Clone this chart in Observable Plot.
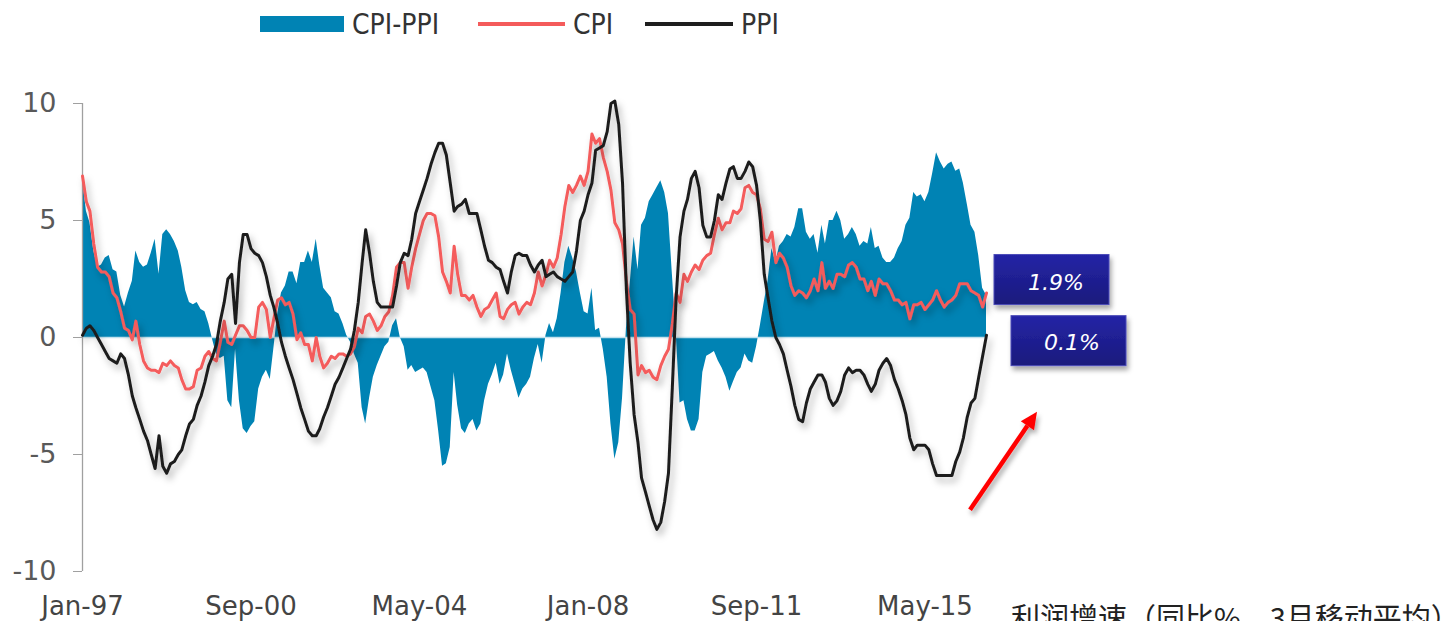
<!DOCTYPE html>
<html><head><meta charset="utf-8">
<script src="https://cdn.jsdelivr.net/npm/d3@7"></script>
<script src="https://cdn.jsdelivr.net/npm/@observablehq/plot@0.6"></script>
<style>
html,body{margin:0;padding:0;background:#fff;overflow:hidden;width:1449px;height:621px;}
#wrap{position:relative;width:1449px;height:621px;overflow:hidden;}
#legend{position:absolute;left:0;top:0;width:1449px;height:48px;font-family:"DejaVu Sans Condensed","DejaVu Sans",sans-serif;font-size:28px;color:#333;}
.item{position:absolute;top:6px;height:36px;display:flex;align-items:center;}
.sw{display:inline-block;margin-right:8px;}
#chart{position:absolute;left:0;top:48px;}
#caption{position:absolute;left:1011px;top:602px;font-family:"Noto Sans CJK SC",sans-serif;font-size:29px;line-height:1;color:#222;white-space:nowrap;}
</style></head>
<body><div id="wrap">
<div id="legend"></div>
<div id="chart"></div>
<div id="caption"></div>
</div>
<script>
// ---- data (monthly, Jan-1997 .. Sep-2016) ----
const startYear = 1997;
const cpi = [
 // 1997
 6.9,5.8,5.4,4.0,3.0,2.8,2.8,2.6,1.9,1.7,1.1,0.4,
 // 1998
 0.3,-0.1,0.7,-0.3,-1.0,-1.3,-1.4,-1.4,-1.5,-1.1,-1.2,-1.0,
 // 1999
 -1.2,-1.3,-1.8,-2.2,-2.2,-2.1,-1.4,-1.3,-0.8,-0.6,-0.9,-1.0,
 // 2000
 -0.2,0.7,-0.2,-0.3,0.1,0.5,0.5,0.3,0.0,0.0,1.3,1.5,
 // 2001
 1.2,0.0,0.8,1.6,1.7,1.4,1.5,1.0,-0.1,0.2,-0.3,-0.3,
 // 2002
 -1.0,0.0,-0.8,-1.3,-1.1,-0.8,-0.9,-0.7,-0.7,-0.8,-0.7,-0.4,
 // 2003
 0.4,0.2,0.9,1.0,0.7,0.3,0.5,0.9,1.1,1.8,3.0,3.2,
 // 2004
 3.2,2.1,3.0,3.8,4.4,5.0,5.3,5.3,5.2,4.3,2.8,2.4,
 // 2005
 1.9,3.9,2.7,1.8,1.8,1.6,1.8,1.3,0.9,1.2,1.3,1.6,
 // 2006
 1.9,0.9,0.8,1.2,1.4,1.5,1.0,1.3,1.5,1.4,1.9,2.8,
 // 2007
 2.2,2.7,3.3,3.0,3.4,4.4,5.6,6.5,6.2,6.5,6.9,6.5,
 // 2008
 7.1,8.7,8.3,8.5,7.7,7.1,6.3,4.9,4.6,4.0,2.4,1.2,
 // 2009
 1.0,-1.6,-1.2,-1.5,-1.4,-1.7,-1.8,-1.2,-0.8,-0.5,0.6,1.9,
 // 2010
 1.5,2.7,2.4,2.8,3.1,2.9,3.3,3.5,3.6,4.4,5.1,4.6,
 // 2011
 4.9,4.9,5.4,5.3,5.5,6.4,6.5,6.2,6.1,5.5,4.2,4.1,
 // 2012
 4.5,3.2,3.6,3.4,3.0,2.2,1.8,2.0,1.9,1.7,2.0,2.5,
 // 2013
 2.0,3.2,2.1,2.4,2.1,2.7,2.7,2.6,3.1,3.2,3.0,2.5,
 // 2014
 2.5,2.0,2.4,1.8,2.5,2.3,2.3,2.0,1.6,1.6,1.4,1.5,
 // 2015
 0.8,1.4,1.4,1.5,1.2,1.4,1.6,2.0,1.6,1.3,1.5,1.6,
 // 2016
 1.8,2.3,2.3,2.3,2.0,1.9,1.8,1.3,1.9
];
const ppi = [
 // 1997
 0.1,0.4,0.5,0.3,0.0,-0.3,-0.6,-0.9,-1.0,-1.1,-0.7,-0.9,
 // 1998
 -1.6,-2.5,-3.0,-3.5,-4.0,-4.4,-5.0,-5.6,-4.2,-5.5,-5.8,-5.4,
 // 1999
 -5.3,-5.0,-4.8,-4.2,-3.7,-3.5,-2.9,-2.5,-1.9,-1.2,-0.8,-0.3,
 // 2000
 0.7,1.5,2.5,2.7,0.6,3.2,4.4,4.4,3.8,3.6,3.5,3.2,
 // 2001
 2.6,1.8,1.3,0.6,-0.2,-0.8,-1.3,-1.8,-2.4,-3.0,-3.5,-4.0,
 // 2002
 -4.2,-4.2,-3.9,-3.4,-3.0,-2.5,-2.0,-1.7,-1.3,-0.9,-0.5,0.3,
 // 2003
 1.5,3.2,4.6,3.6,2.4,1.5,1.3,1.3,1.3,1.3,2.2,3.2,
 // 2004
 3.6,3.5,4.2,5.3,5.8,6.3,6.8,7.4,7.9,8.3,8.3,7.8,
 // 2005
 6.6,5.4,5.6,5.7,5.9,5.3,5.3,5.3,4.6,3.9,3.3,3.2,
 // 2006
 3.0,2.9,2.4,1.9,2.8,3.5,3.6,3.5,3.5,3.1,2.8,3.1,
 // 2007
 3.3,2.6,2.7,2.8,2.6,2.5,2.4,2.6,2.8,3.7,5.0,5.4,
 // 2008
 6.1,6.6,8.0,8.1,8.2,8.8,10.0,10.1,9.1,6.6,2.0,-1.1,
 // 2009
 -3.3,-4.5,-6.0,-6.6,-7.2,-7.8,-8.2,-7.9,-7.0,-5.8,-2.1,1.7,
 // 2010
 4.3,5.4,5.9,6.8,7.1,6.4,4.8,4.3,4.3,5.0,6.1,5.9,
 // 2011
 6.6,7.2,7.3,6.8,6.8,7.1,7.5,7.3,6.5,5.0,2.7,1.7,
 // 2012
 0.7,0.0,-0.3,-0.7,-1.4,-2.1,-2.9,-3.5,-3.6,-2.8,-2.2,-1.9,
 // 2013
 -1.6,-1.6,-1.9,-2.6,-2.9,-2.7,-2.3,-1.6,-1.3,-1.5,-1.4,-1.4,
 // 2014
 -1.6,-2.0,-2.3,-2.0,-1.4,-1.1,-0.9,-1.2,-1.8,-2.2,-2.7,-3.3,
 // 2015
 -4.3,-4.8,-4.6,-4.6,-4.6,-4.8,-5.4,-5.9,-5.9,-5.9,-5.9,-5.9,
 // 2016
 -5.3,-4.9,-4.3,-3.4,-2.8,-2.6,-1.7,-0.8,0.1
];
const seriesNames = ["CPI-PPI","CPI","PPI"];
const yTicks = [-10,-5,0,5,10];
const xTickLabels = ["Jan-97","Sep-00","May-04","Jan-08","Sep-11","May-15"];
const captionText = "利润增速（同比%，3月移动平均）";

// ---- build table ----
const monthIdx = {Jan:0,Feb:1,Mar:2,Apr:3,May:4,Jun:5,Jul:6,Aug:7,Sep:8,Oct:9,Nov:10,Dec:11};
const rows = cpi.map((c,i)=>({
  date: new Date(Date.UTC(startYear + Math.floor(i/12), i%12, 1)),
  cpi: c, ppi: ppi[i], diff: +(c - ppi[i]).toFixed(2)
}));
const xTicks = xTickLabels.map(s=>{const [m,y]=s.split("-"); return new Date(Date.UTC(2000+ (+y>50? +y-100:+y), monthIdx[m], 1));});
const tickFmt = d3.utcFormat("%b-%y");

const colors = {area:"#0083b4", cpi:"#f45b5b", ppi:"#1e1e1e"};

// ---- legend ----
const legend = document.getElementById("legend");
const legItems = [
  {name:seriesNames[0], left:260, sw:`<span class="sw" style="width:84px;height:16px;background:${colors.area}"></span>`},
  {name:seriesNames[1], left:478, sw:`<span class="sw" style="width:87px;height:4px;background:${colors.cpi}"></span>`},
  {name:seriesNames[2], left:645, sw:`<span class="sw" style="width:88px;height:4px;background:${colors.ppi}"></span>`}
];
legItems.forEach(it=>{
  const d = document.createElement("div");
  d.className="item"; d.style.left=it.left+"px";
  d.innerHTML = it.sw + `<span>${it.name}</span>`;
  legend.appendChild(d);
});
document.getElementById("caption").textContent = captionText;

// ---- chart ----
const chart = Plot.plot({
  width:1449, height:573,
  marginLeft:82, marginRight:463, marginTop:55, marginBottom:50,
  style:{fontFamily:"DejaVu Sans", background:"transparent", overflow:"visible"},
  x:{type:"utc", domain:[rows[0].date, rows[rows.length-1].date]},
  y:{domain:[-10,10]},
  marks:[
    Plot.areaY(rows,{x:"date", y:"diff", fill:colors.area}),
    Plot.ruleY([0],{stroke:"#c4e2ee", strokeWidth:1.5}),
    Plot.ruleX([rows[0].date],{y1:-10, y2:10, stroke:"#a0a0a0", strokeWidth:1.3}),
    Plot.line(rows,{x:"date", y:"cpi", stroke:colors.cpi, strokeWidth:3}),
    Plot.line(rows,{x:"date", y:"ppi", stroke:colors.ppi, strokeWidth:3}),
    Plot.axisY({ticks:yTicks, tickSize:9, tickPadding:17, tickFormat:d=>String(d), stroke:"#a0a0a0", fill:"#595959", fontSize:27, label:null}),
    Plot.axisX({ticks:xTicks, tickSize:0, tickPadding:25, tickFormat:tickFmt, fill:"#444", fontSize:26, label:null})
  ]
});
document.getElementById("chart").appendChild(chart);

// ---- shadows & annotations ----
const svg = d3.select(chart);
const defs = svg.append("defs");
const f = defs.append("filter").attr("id","sh").attr("x","-5%").attr("y","-10%").attr("width","115%").attr("height","130%");
f.append("feDropShadow").attr("dx",3).attr("dy",5).attr("stdDeviation",3.5).attr("flood-color","#000").attr("flood-opacity",0.3);
const f2 = defs.append("filter").attr("id","bsh").attr("x","-20%").attr("y","-20%").attr("width","150%").attr("height","160%");
f2.append("feDropShadow").attr("dx",2).attr("dy",4).attr("stdDeviation",2.5).attr("flood-color","#000").attr("flood-opacity",0.35);
const g = defs.append("linearGradient").attr("id","bg").attr("x1",0).attr("y1",0).attr("x2",0).attr("y2",1);
g.append("stop").attr("offset","0%").attr("stop-color","#2424a6");
g.append("stop").attr("offset","100%").attr("stop-color","#1a1a7c");
svg.selectAll('g[aria-label="line"]').attr("filter","url(#sh)");

const xs = chart.scale("x"), ys = chart.scale("y");
const last = rows[rows.length-1];
const ax = xs.apply(last.date);
const cyy = ys.apply(last.cpi), pyy = ys.apply(last.ppi);
const ann = svg.append("g");
function box(x, y, w, h, label, tx, ty){
  const b = ann.append("g").attr("filter","url(#bsh)");
  b.append("rect").attr("x",x).attr("y",y).attr("width",w).attr("height",h).attr("fill","url(#bg)").attr("stroke","#4b4bb8").attr("stroke-width",1);
  ann.append("text").attr("x",tx).attr("y",ty).attr("text-anchor","middle")
    .attr("fill","#fff").attr("font-family","DejaVu Sans").attr("font-style","italic").attr("font-size",22).text(label);
}
box(ax+8, cyy-38, 115, 50, last.cpi.toFixed(1)+"%", ax+70, cyy-3);
box(ax+25, pyy-19, 115, 50, last.ppi.toFixed(1)+"%", ax+86, pyy+15);

// red arrow
const t0 = [ax-16, pyy+175], t1 = [ax+51, pyy+77];
const dx = t1[0]-t0[0], dy = t1[1]-t0[1], L = Math.hypot(dx,dy), ux = dx/L, uy = dy/L, nx = -uy, ny = ux;
const hb = [t1[0]-17*ux, t1[1]-17*uy];
const ar = ann.append("g").attr("filter","url(#bsh)");
ar.append("line").attr("x1",t0[0]).attr("y1",t0[1]).attr("x2",hb[0]).attr("y2",hb[1]).attr("stroke","#ff0000").attr("stroke-width",4.5);
ar.append("path").attr("d",`M${t1[0]},${t1[1]}L${hb[0]+8*nx},${hb[1]+8*ny}L${hb[0]-8*nx},${hb[1]-8*ny}Z`).attr("fill","#ff0000");
</script>
</body></html>
